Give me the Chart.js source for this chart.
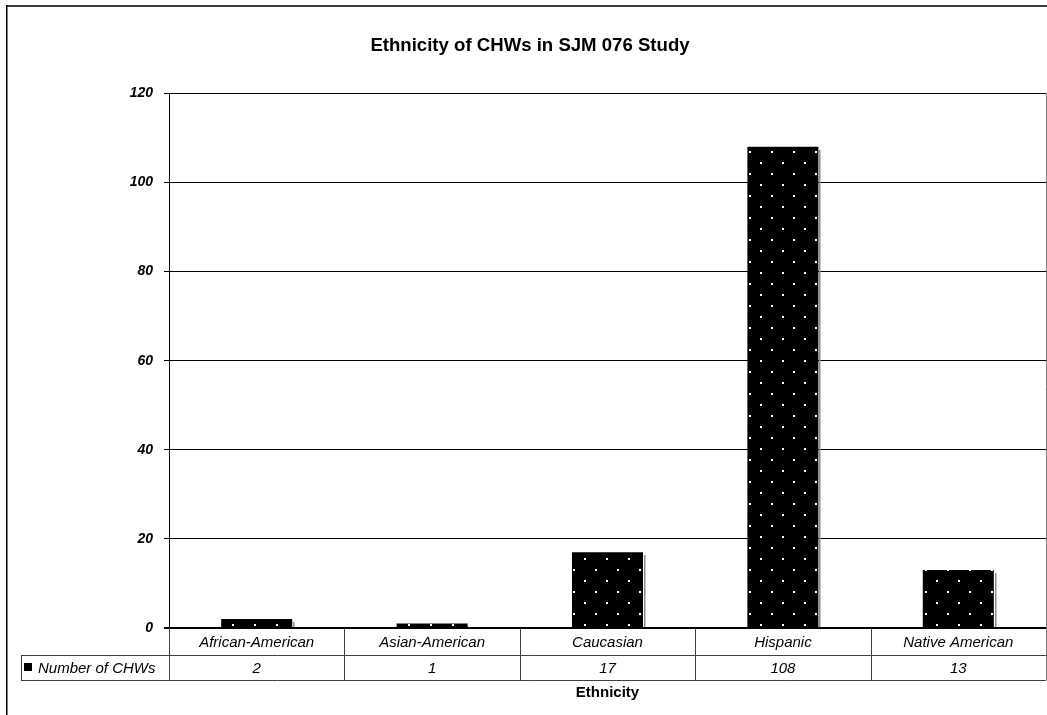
<!DOCTYPE html>
<html>
<head>
<meta charset="utf-8">
<script src="https://cdn.jsdelivr.net/npm/chart.js@4/dist/chart.umd.min.js"></script>
<style>
  html, body { margin: 0; padding: 0; background: #fff; overflow: hidden; }
  canvas { display: block; }
</style>
</head>
<body>
<canvas id="chart" width="1047" height="715"></canvas>
<script>
// Chart text
const chartTitle = 'Ethnicity of CHWs in SJM 076 Study';
const axisTitle = 'Ethnicity';
const seriesName = 'Number of CHWs';

// Data
const categories = ['African-American', 'Asian-American', 'Caucasian', 'Hispanic', 'Native American'];
const chwCounts = [2, 1, 17, 108, 13];

// Value axis
const yMin = 0;
const yMax = 120;
const yStep = 20;

const FONT = '"Liberation Sans", Arial, Helvetica, sans-serif';
Chart.defaults.font.family = FONT;
Chart.defaults.color = '#000';

const canvas = document.getElementById('chart');
const ctx = canvas.getContext('2d');

// Black fill with a staggered grid of small white dots
function dotPattern(target) {
  const tile = document.createElement('canvas');
  tile.width = 22;
  tile.height = 22;
  const g = tile.getContext('2d');
  g.fillStyle = '#000';
  g.fillRect(0, 0, 22, 22);
  g.fillStyle = '#fff';
  g.fillRect(1, 19, 2, 2);
  g.fillRect(12, 8, 2, 2);
  return target.createPattern(tile, 'repeat');
}

// Thin grey drop shadow on the right side of each bar
const barShadow = {
  id: 'barShadow',
  beforeDatasetsDraw(chart) {
    const c = chart.ctx;
    const meta = chart.getDatasetMeta(0);
    c.save();
    c.fillStyle = '#8c8c8c';
    meta.data.forEach(bar => {
      const p = bar.getProps(['x', 'y', 'base', 'width'], true);
      const right = p.x + p.width / 2;
      const h = p.base - p.y - 3;
      if (h > 0) c.fillRect(Math.round(right) + 1, Math.round(p.y) + 3, 1.5, h);
    });
    c.restore();
  }
};

// Outer frame, data table under the plot and the category-axis title
const dataTable = {
  id: 'dataTable',
  afterDraw(chart) {
    const c = chart.ctx;
    const area = chart.chartArea;
    const xs = chart.scales.x;
    const n = categories.length;
    const step = (area.right - area.left) / n;
    const row1Top = area.bottom;
    const row1Bottom = row1Top + 27;
    const row2Bottom = row1Bottom + 25;
    const legendLeft = 21.5;

    c.save();

    // outer frame
    c.fillStyle = '#3c3c3c';
    c.fillRect(6, 5, chart.width - 6, 2);
    c.fillStyle = '#000';
    c.fillRect(6, 5, 1.5, chart.height - 5);

    // right edge of plot and table
    c.strokeStyle = '#7a7a7a';
    c.lineWidth = 1;
    c.beginPath();
    c.moveTo(area.right + 0.5, area.top);
    c.lineTo(area.right + 0.5, row2Bottom);
    c.stroke();

    // table grid
    c.strokeStyle = '#404040';
    c.beginPath();
    c.moveTo(legendLeft, row1Bottom + 0.5);
    c.lineTo(area.right, row1Bottom + 0.5);
    c.moveTo(legendLeft, row2Bottom + 0.5);
    c.lineTo(area.right, row2Bottom + 0.5);
    c.moveTo(legendLeft, row1Bottom);
    c.lineTo(legendLeft, row2Bottom + 1);
    for (let i = 0; i <= n - 1; i++) {
      const bx = Math.round(area.left + i * step) + 0.5;
      c.moveTo(bx, row1Top);
      c.lineTo(bx, row2Bottom + 1);
    }
    c.stroke();

    // category names and values
    c.fillStyle = '#000';
    c.textAlign = 'center';
    c.textBaseline = 'middle';
    c.font = 'italic 15px ' + FONT;
    categories.forEach((cat, i) => {
      const cx = xs.getPixelForValue(i);
      c.fillText(cat, cx, (row1Top + row1Bottom) / 2 + 1);
      c.fillText(String(chwCounts[i]), cx, (row1Bottom + row2Bottom) / 2 + 1);
    });

    // legend key in the table's first column
    c.fillRect(24, 663, 8, 8);
    c.textAlign = 'left';
    c.fillText(seriesName, 38, (row1Bottom + row2Bottom) / 2 + 1);

    // category axis title
    c.textAlign = 'center';
    c.font = 'bold 15px ' + FONT;
    c.fillText(axisTitle, (area.left + area.right) / 2, row2Bottom + 13);

    c.restore();
  }
};

new Chart(ctx, {
  type: 'bar',
  data: {
    labels: categories,
    datasets: [{
      label: seriesName,
      data: chwCounts,
      backgroundColor: dotPattern(ctx),
      borderWidth: 0,
      barPercentage: 0.405,
      categoryPercentage: 1.0
    }]
  },
  options: {
    responsive: false,
    animation: false,
    devicePixelRatio: 1,
    layout: { padding: { left: 14, right: 1, top: 0, bottom: 0 } },
    plugins: {
      legend: { display: false },
      tooltip: { enabled: false },
      title: {
        display: true,
        text: chartTitle,
        color: '#000',
        font: { family: FONT, size: 18.6, weight: 'bold' },
        padding: { top: 35, bottom: 36 }
      }
    },
    scales: {
      x: {
        type: 'category',
        grid: { display: false },
        border: { display: false },
        ticks: { display: false },
        afterFit(scale) { scale.height = 87; }
      },
      y: {
        min: yMin,
        max: yMax,
        ticks: {
          stepSize: yStep,
          padding: 11,
          color: '#000',
          font: { family: FONT, size: 14, weight: 'bold', style: 'italic' }
        },
        grid: {
          color: '#000',
          lineWidth: c => (c.tick && c.tick.value === 0 ? 2 : 1),
          tickLength: 5,
          drawTicks: true
        },
        border: { display: true, color: '#000', width: 1 },
        afterFit(scale) { scale.width = 155; }
      }
    }
  },
  plugins: [barShadow, dataTable]
});
</script>
</body>
</html>
